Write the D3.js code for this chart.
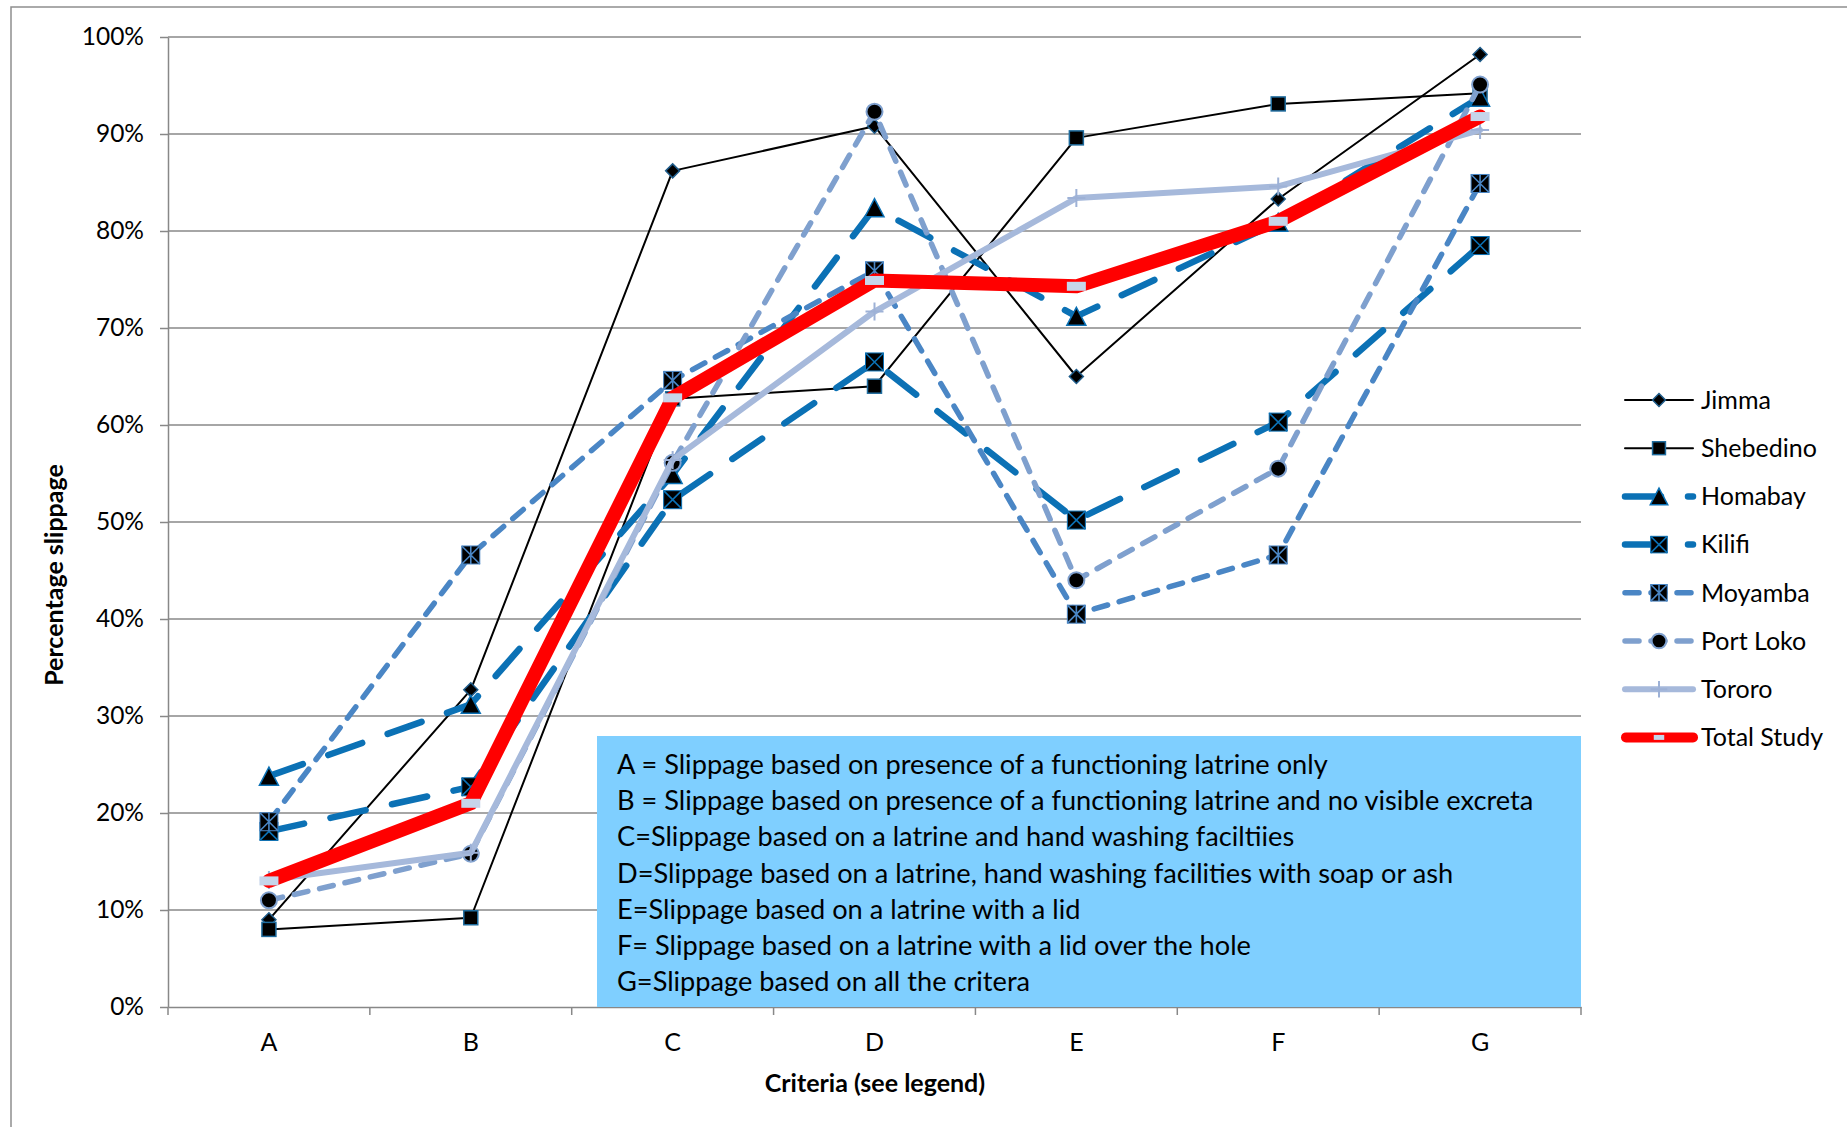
<!DOCTYPE html>
<html>
<head>
<meta charset="utf-8">
<script src="https://cdn.jsdelivr.net/npm/d3@7"></script>
<style>
  html, body { margin: 0; padding: 0; background: #fff; }
  svg { display: block; }
  text { font-family: Lato, "Open Sans", sans-serif; fill: #000; }
</style>
</head>
<body>
<svg id="chart" width="1847" height="1127"></svg>
<script>
// Slippage criteria (x categories)
const categories = ["A", "B", "C", "D", "E", "F", "G"];

// Percentage slippage per site, one value per criterion A..G
const jimma      = [9.0, 32.7, 86.2, 90.8, 65.0, 83.3, 98.2];
const shebedino  = [8.0, 9.2, 62.7, 64.0, 89.6, 93.1, 94.2];
const homabay    = [23.8, 31.2, 54.9, 82.4, 71.2, 80.9, 93.8];
const kilifi     = [18.1, 22.7, 52.3, 66.5, 50.2, 60.3, 78.5];
const moyamba    = [19.1, 46.6, 64.6, 75.9, 40.5, 46.6, 84.9];
const portLoko   = [11.0, 15.8, 56.1, 92.3, 44.0, 55.5, 95.1];
const tororo     = [13.1, 15.9, 56.4, 71.7, 83.4, 84.6, 90.4];
const totalStudy = [13.0, 21.0, 62.8, 74.9, 74.3, 81.0, 91.8];

const seriesNames = ["Jimma", "Shebedino", "Homabay", "Kilifi", "Moyamba", "Port Loko", "Tororo", "Total Study"];
const seriesValues = [jimma, shebedino, homabay, kilifi, moyamba, portLoko, tororo, totalStudy];

// Y axis ticks (percent)
const yTicks = [0, 10, 20, 30, 40, 50, 60, 70, 80, 90, 100];

const yTitle = "Percentage slippage";
const xTitle = "Criteria (see legend)";

// Explanatory note for the criteria
const criteriaNotes = [
  "A = Slippage based on presence of a functioning latrine only",
  "B = Slippage based on presence of a functioning latrine and no visible excreta",
  "C=Slippage based on a latrine and hand washing faciltiies",
  "D=Slippage based on a latrine, hand washing facilities with soap or ash",
  "E=Slippage based on a latrine with a lid",
  "F= Slippage based on a latrine with a lid over the hole",
  "G=Slippage based on all the critera"
];

// ---- styles -------------------------------------------------------------
const BLUE_DARK = "#0B71B5";
const BLUE_MID = "#4A86C5";
const BLUE_LIGHT = "#7FA0CE";
const BLUE_PALE = "#A6B9DB";
const GRID = "#888888";

const styles = {
  "Jimma":       { color: "#000", width: 2,   dash: null,    marker: "diamond" },
  "Shebedino":   { color: "#000", width: 2,   dash: null,    marker: "square" },
  "Homabay":     { color: BLUE_DARK, width: 6.5, dash: "36 27", marker: "triangle" },
  "Kilifi":      { color: BLUE_DARK, width: 6.5, dash: "36 27", marker: "xsquare" },
  "Moyamba":     { color: BLUE_MID, width: 5.5, dash: "14 12", marker: "asterisk" },
  "Port Loko":   { color: BLUE_LIGHT, width: 5.5, dash: "14 12", marker: "circle" },
  "Tororo":      { color: BLUE_PALE, width: 6, dash: null,    marker: "plus" },
  "Total Study": { color: "#FF0000", width: 14, dash: null,   marker: "dash" }
};

const svg = d3.select("#chart");
const plot = { left: 168, right: 1581, top: 37, bottom: 1007 };

const x = d3.scaleBand().domain(categories).range([plot.left, plot.right]).padding(0);
const y = d3.scaleLinear().domain([0, 100]).range([plot.bottom, plot.top]);
const cx = c => x(c) + x.bandwidth() / 2;

// chart area frame
svg.append("path")
  .attr("d", "M11,1127V7H1847")
  .attr("fill", "none").attr("stroke", "#8E8E8E").attr("stroke-width", 1.5);

// horizontal gridlines
svg.append("g").selectAll("line")
  .data(yTicks.filter(t => t > 0))
  .join("line")
  .attr("x1", plot.left).attr("x2", plot.right)
  .attr("y1", d => y(d)).attr("y2", d => y(d))
  .attr("stroke", GRID).attr("stroke-width", 1.5);

// y axis
const yAxis = svg.append("g")
  .attr("transform", `translate(${plot.left},0)`)
  .call(d3.axisLeft(y).tickValues(yTicks).tickFormat(d => d + "%")
    .tickSize(8).tickSizeOuter(0).tickPadding(16));
yAxis.select(".domain").attr("stroke", GRID).attr("stroke-width", 1.5);
yAxis.selectAll(".tick line").attr("stroke", GRID).attr("stroke-width", 1.5);
yAxis.selectAll(".tick text")
  .attr("font-family", "Lato").attr("font-size", 24.5).attr("fill", "#000");

// x axis: labels at band centres, ticks at band boundaries
const xAxis = svg.append("g")
  .attr("transform", `translate(0,${plot.bottom})`)
  .call(d3.axisBottom(x).tickSize(0).tickSizeOuter(0));
xAxis.select(".domain").attr("stroke", GRID).attr("stroke-width", 1.5);
xAxis.selectAll(".tick text")
  .attr("font-family", "Lato").attr("font-size", 25).attr("fill", "#000")
  .attr("y", 44).attr("dy", null);
const bounds = categories.map(c => x(c)).concat([plot.right]);
svg.append("g").selectAll("line").data(bounds).join("line")
  .attr("x1", d => d).attr("x2", d => d)
  .attr("y1", plot.bottom).attr("y2", plot.bottom + 8)
  .attr("stroke", GRID).attr("stroke-width", 1.5);

// axis titles
svg.append("text")
  .attr("transform", "translate(54,575) rotate(-90)")
  .attr("text-anchor", "middle").attr("dy", "0.35em")
  .attr("font-size", 25).attr("font-weight", "bold")
  .text(yTitle);
svg.append("text")
  .attr("x", 875).attr("y", 1092)
  .attr("text-anchor", "middle")
  .attr("font-size", 25).attr("font-weight", "bold")
  .text(xTitle);

// ---- markers --------------------------------------------------------------
function drawMarker(g, type, k) {
  const s = k || 1;
  switch (type) {
    case "diamond":
      g.append("path").attr("d", `M0,${-7*s}L${7*s},0L0,${7*s}L${-7*s},0Z`)
        .attr("fill", "#000").attr("stroke", "#1F5C8A").attr("stroke-width", 1.5);
      break;
    case "square":
      g.append("rect").attr("x", -7*s).attr("y", -7*s).attr("width", 14*s).attr("height", 14*s)
        .attr("fill", "#000").attr("stroke", "#1F6C9E").attr("stroke-width", 1.5);
      break;
    case "triangle":
      g.append("path").attr("d", `M0,${-9*s}L${9.5*s},${9*s}L${-9.5*s},${9*s}Z`)
        .attr("fill", "#000").attr("stroke", BLUE_DARK).attr("stroke-width", 1.5)
        .attr("stroke-linejoin", "miter");
      break;
    case "xsquare": {
      const h = 9 * s;
      g.append("rect").attr("x", -h).attr("y", -h).attr("width", 2*h).attr("height", 2*h)
        .attr("fill", "#000").attr("stroke", BLUE_DARK).attr("stroke-width", 1);
      g.append("path").attr("d", `M${-h},${-h}L${h},${h}M${h},${-h}L${-h},${h}`)
        .attr("stroke", BLUE_DARK).attr("stroke-width", 1.6);
      break;
    }
    case "asterisk": {
      const h = 9 * s;
      g.append("rect").attr("x", -h).attr("y", -h).attr("width", 2*h).attr("height", 2*h)
        .attr("fill", "#000").attr("stroke", BLUE_MID).attr("stroke-width", 1);
      g.append("path").attr("d", `M${-h},${-h}L${h},${h}M${h},${-h}L${-h},${h}M0,${-h}V${h}`)
        .attr("stroke", BLUE_MID).attr("stroke-width", 1.6);
      break;
    }
    case "circle":
      g.append("circle").attr("r", 8 * s)
        .attr("fill", "#000").attr("stroke", BLUE_LIGHT).attr("stroke-width", 2);
      break;
    case "plus":
      g.append("path").attr("d", `M${-9*s},0H${9*s}M0,${-9*s}V${9*s}`)
        .attr("stroke", "#9DB1D6").attr("stroke-width", 2);
      break;
    case "dash":
      g.append("rect").attr("x", -9.5*s).attr("y", -4.5*s).attr("width", 19*s).attr("height", 9*s)
        .attr("fill", "#C6D5EA");
      break;
  }
}

// ---- series ---------------------------------------------------------------
const line = d3.line().x((d, i) => cx(categories[i])).y(d => y(d));

seriesNames.forEach((name, si) => {
  const st = styles[name];
  const vals = seriesValues[si];
  const g = svg.append("g").attr("class", "series");
  g.append("path")
    .attr("d", line(vals))
    .attr("fill", "none")
    .attr("stroke", st.color)
    .attr("stroke-width", st.width)
    .attr("stroke-linejoin", "round")
    .attr("stroke-linecap", "round")
    .attr("stroke-dasharray", st.dash);
  vals.forEach((v, i) => {
    const mg = g.append("g").attr("transform", `translate(${cx(categories[i])},${y(v)})`);
    drawMarker(mg, st.marker, 1);
  });
});

// ---- criteria note box ----------------------------------------------------
const note = svg.append("g");
note.append("rect")
  .attr("x", 597).attr("y", 736).attr("width", plot.right - 597).attr("height", plot.bottom - 736)
  .attr("fill", "#7FCFFF");
note.selectAll("text").data(criteriaNotes).join("text")
  .attr("x", 617).attr("y", (d, i) => 774 + i * 36.2)
  .attr("font-size", 27.2)
  .text(d => d);

// ---- legend ---------------------------------------------------------------
const legend = svg.append("g");
seriesNames.forEach((name, i) => {
  const st = styles[name];
  const ly = 400 + i * 48.2;
  const g = legend.append("g").attr("transform", `translate(0,${ly})`);
  const isTotal = name === "Total Study";
  g.append("line")
    .attr("x1", isTotal ? 1626 : 1625).attr("x2", 1693)
    .attr("y1", 0).attr("y2", 0)
    .attr("stroke", st.color)
    .attr("stroke-width", isTotal ? 10 : st.width)
    .attr("stroke-linecap", "round")
    .attr("stroke-dasharray", st.dash);
  const mg = g.append("g").attr("transform", "translate(1659,0)");
  drawMarker(mg, st.marker, isTotal ? 0.55 : 0.92);
  g.append("text").attr("x", 1701).attr("y", 0).attr("dy", "0.35em")
    .attr("font-size", 25).text(name);
});
</script>
</body>
</html>
